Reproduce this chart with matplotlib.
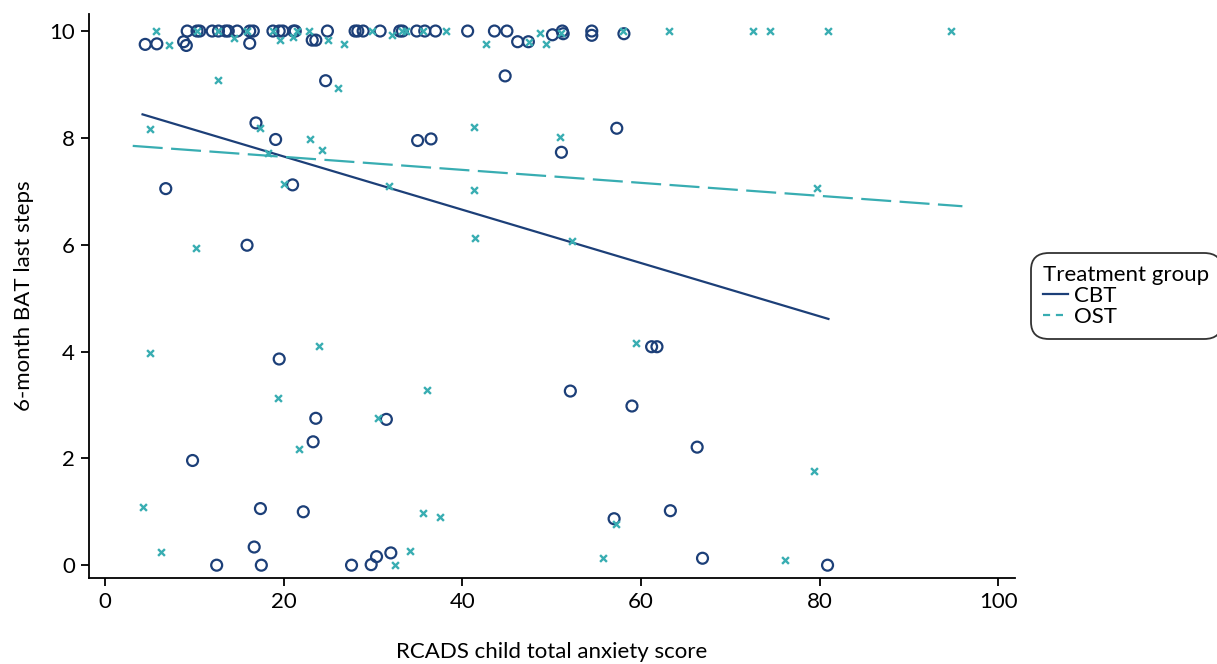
#!/usr/bin/env python
"""Scatter of 6-month BAT last steps against RCADS anxiety score, by treatment group."""

from __future__ import annotations

import matplotlib

matplotlib.use("Agg")
import matplotlib.pyplot as plt
from matplotlib.lines import Line2D


CBT_COLOR = "#1c3f78"
OST_COLOR = "#38adb2"

# CBT group (circles)
cbt_x = [
    9.2, 10.3, 10.6, 12.0, 12.7, 13.5, 13.8, 14.8, 16.2, 16.6, 18.8, 19.5, 19.9,
    21.1, 21.3, 24.9, 28.0, 28.3, 28.9, 30.8, 33.0, 33.3, 34.9, 35.8, 37.0, 40.6,
    43.6, 45.0, 51.2, 54.5, 58.1,
    4.5, 5.8, 8.8, 9.1, 16.2, 23.2, 23.6, 46.2, 47.4, 50.1, 51.3, 54.5,
    24.7, 16.9, 19.1, 35.0, 36.5, 6.8, 21.0, 15.9, 44.8, 57.3, 51.1,
    19.5, 23.6, 31.5, 23.3, 9.8, 17.4, 22.2, 16.7, 12.5, 17.5, 27.6, 29.8,
    30.4, 32.0, 61.2, 61.8, 52.1, 59.0, 66.3, 57.0, 63.3, 66.9, 80.9,
]
cbt_y = [
    10, 10, 10, 10, 10, 10, 10, 10, 10, 10, 10, 10, 10,
    10, 10, 10, 10, 10, 10, 10, 10, 10, 10, 10, 10, 10,
    10, 10, 10, 10, 9.95,
    9.75, 9.76, 9.8, 9.73, 9.77, 9.83, 9.83, 9.8, 9.8, 9.93, 9.95, 9.92,
    9.07, 8.28, 7.97, 7.95, 7.98, 7.05, 7.12, 5.99, 9.16, 8.18, 7.73,
    3.86, 2.75, 2.73, 2.31, 1.96, 1.06, 1.0, 0.34, 0.0, 0.0, 0.0, 0.01,
    0.16, 0.23, 4.09, 4.09, 3.26, 2.98, 2.21, 0.87, 1.02, 0.13, 0.0,
]

# OST group (crosses)
ost_x = [
    5.7, 7.2, 10.3, 12.7, 14.4, 15.9, 18.8, 19.6, 21.1, 21.5, 22.8, 25.0, 26.8,
    29.9, 32.1, 33.3, 33.7, 35.6, 38.2, 42.7, 47.5, 48.7, 49.4, 51.0, 58.0,
    63.2, 72.5, 74.5, 81.0, 94.7,
    12.6, 26.1, 5.0, 17.4, 23.0, 24.3, 18.3, 20.0, 31.8, 41.3, 41.3, 10.2,
    41.4, 50.9, 79.7, 52.3, 5.0, 24.0, 19.4, 30.6, 36.0, 21.7, 4.3, 6.3,
    35.6, 37.5, 34.2, 32.5, 59.4, 79.4, 57.2, 55.8, 76.1,
]
ost_y = [
    10, 9.73, 10, 10, 9.87, 10, 10, 9.83, 9.88, 10, 10, 9.83, 9.76,
    10, 9.93, 10, 10, 10, 10, 9.76, 9.8, 9.97, 9.76, 9.97, 10,
    10, 10, 10, 10, 10,
    9.08, 8.93, 8.16, 8.18, 7.98, 7.78, 7.72, 7.13, 7.10, 8.21, 7.02, 5.94,
    6.12, 8.01, 7.07, 6.07, 3.98, 4.11, 3.13, 2.75, 3.28, 2.17, 1.09, 0.24,
    0.97, 0.90, 0.26, 0.0, 4.16, 1.77, 0.77, 0.13, 0.10,
]

# fitted lines (end points)
cbt_fit_x = [4.2, 81.0]
cbt_fit_y = [8.44, 4.61]
ost_fit_x = [3.1, 96.0]
ost_fit_y = [7.85, 6.72]

groups = ["CBT", "OST"]
x_ticks = [0, 20, 40, 60, 80, 100]
y_ticks = [0, 2, 4, 6, 8, 10]


def main() -> int:
    plt.rcParams["font.family"] = ["Lato", "DejaVu Sans"]
    fig = plt.figure(figsize=(12.17, 6.64), dpi=100)
    ax = fig.add_axes([0.0731, 0.1295, 0.761, 0.8495])

    ax.scatter(cbt_x, cbt_y, s=62, facecolors="none", edgecolors=CBT_COLOR,
               linewidths=1.6, zorder=3)
    ax.scatter(ost_x, ost_y, s=24, marker="x", color=OST_COLOR,
               linewidths=1.7, zorder=4)
    ax.plot(cbt_fit_x, cbt_fit_y, color=CBT_COLOR, lw=1.6, zorder=2)
    ax.plot(ost_fit_x, ost_fit_y, color=OST_COLOR, lw=1.6, dashes=(13.5, 3.8),
            zorder=2)

    ax.set_xlim(-1.8, 101.9)
    ax.set_ylim(-0.24, 10.32)
    ax.set_xticks(x_ticks)
    ax.set_yticks(y_ticks)
    for side in ("top", "right"):
        ax.spines[side].set_visible(False)
    for side in ("left", "bottom"):
        ax.spines[side].set_linewidth(1.3)
    ax.tick_params(axis="both", labelsize=16, length=6, width=1.3, pad=4)
    ax.set_xlabel("RCADS child total anxiety score", fontsize=16, labelpad=22)
    ax.set_ylabel("6-month BAT last steps", fontsize=16, labelpad=11)

    # legend proxies: the dashed key uses short dashes like the original
    handles = [
        Line2D([], [], color=CBT_COLOR, lw=1.6),
        Line2D([], [], color=OST_COLOR, lw=1.6, dashes=(3.2, 2.6)),
    ]
    leg = ax.legend(handles, groups, title="Treatment group", loc="center left",
                    bbox_to_anchor=(1.01, 0.50), fontsize=16, title_fontsize=16,
                    frameon=True, fancybox=True, handlelength=1.1,
                    handletextpad=0.3, borderpad=0.35, labelspacing=0.05)
    leg.get_frame().set_edgecolor("black")
    leg.get_frame().set_linewidth(1.3)
    leg.get_frame().set_boxstyle("round,pad=0.2,rounding_size=0.8")
    leg._legend_box.align = "left"

    fig.savefig("out.png", dpi=100)
    plt.close(fig)
    return 0


if __name__ == "__main__":
    raise SystemExit(main())
